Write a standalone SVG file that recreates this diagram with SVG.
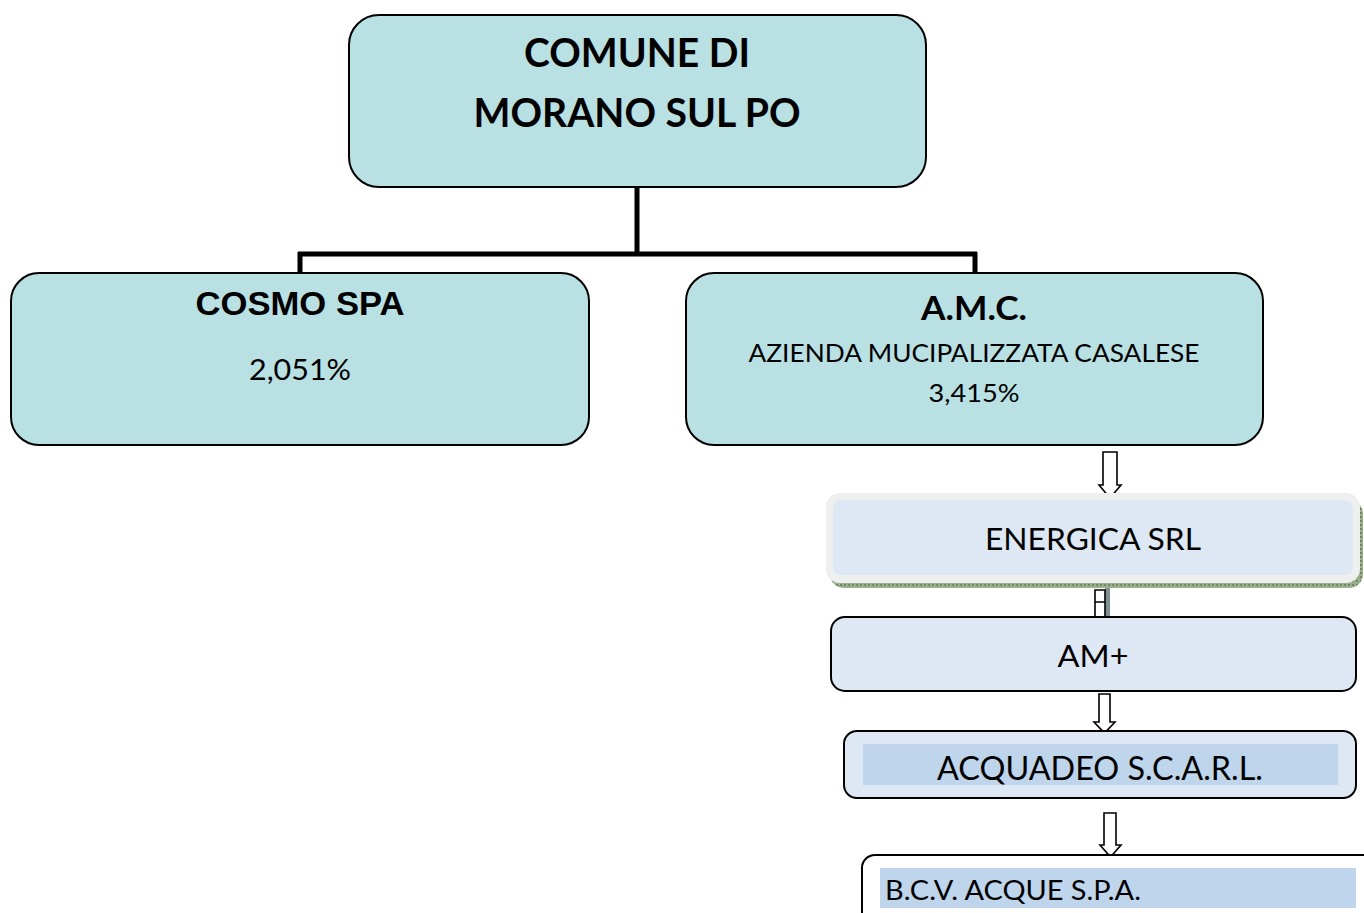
<svg xmlns="http://www.w3.org/2000/svg" width="1364" height="913" viewBox="0 0 1364 913">
<defs>
<style>
.teal{fill:#b9e0e3;stroke:#000;stroke-width:2}
.blue{fill:#dde8f4;stroke:#000;stroke-width:2}
.inner{fill:#bed5ec}
.cal{font-family:Lato,"Open Sans","Liberation Sans",sans-serif;fill:#000}
.ari{font-family:"Liberation Sans",Arial,sans-serif;font-weight:bold;fill:#000}
.conn{fill:none;stroke:#000;stroke-width:5}
.harrow{fill:#fff;stroke:#000;stroke-width:1.6;stroke-linejoin:miter}
</style>
<pattern id="dots" width="4" height="4" patternUnits="userSpaceOnUse">
<rect width="4" height="4" fill="#9db08e"/>
<rect width="2" height="2" fill="#6f8a62"/>
</pattern>
</defs>
<rect width="1364" height="913" fill="#fff"/>

<g id="connectors">
<path class="conn" d="M637,187 V254 M298,254 H977 M300,252 V273 M975,252 V273"/>
<path class="harrow" d="M1103,452 H1117 V485 H1121 L1110,498 L1099,485 H1103 Z"/>
<rect x="1105" y="587" width="5" height="30" fill="#7f8f92"/>
<path class="harrow" d="M1095,590 H1105 V617 H1095 Z M1095,602 H1105"/>
<path class="harrow" d="M1099,694 H1110 V722 H1115 L1104.5,733 L1094,722 H1099 Z"/>
<path class="harrow" d="M1104,813 H1116 V845 H1121 L1110.5,857 L1100,845 H1104 Z"/>
</g>

<g id="comune">
<rect class="teal" x="349" y="15" width="577" height="172" rx="30"/>
<text class="cal" x="637" y="67" text-anchor="middle" font-size="40" font-weight="bold" textLength="226" lengthAdjust="spacingAndGlyphs">COMUNE DI</text>
<text class="cal" x="637" y="127" text-anchor="middle" font-size="40" font-weight="bold" textLength="327" lengthAdjust="spacingAndGlyphs">MORANO SUL PO</text>
</g>

<g id="cosmo">
<rect class="teal" x="11" y="273" width="578" height="172" rx="28"/>
<text class="ari" x="300" y="315" text-anchor="middle" font-size="33" textLength="209" lengthAdjust="spacingAndGlyphs">COSMO SPA</text>
<text class="cal" x="300" y="380" text-anchor="middle" font-size="28" textLength="102" lengthAdjust="spacingAndGlyphs">2,051%</text>
</g>

<g id="amc">
<rect class="teal" x="686" y="273" width="577" height="172" rx="28"/>
<text class="cal" x="974" y="320" text-anchor="middle" font-size="32" font-weight="bold" textLength="106" lengthAdjust="spacingAndGlyphs">A.M.C.</text>
<text class="cal" x="974" y="362" text-anchor="middle" font-size="25" textLength="451" lengthAdjust="spacingAndGlyphs">AZIENDA MUCIPALIZZATA CASALESE</text>
<text class="cal" x="974" y="402" text-anchor="middle" font-size="25" textLength="91" lengthAdjust="spacingAndGlyphs">3,415%</text>
</g>

<g id="energica">
<rect x="830" y="500" width="533" height="88" rx="14" fill="url(#dots)"/>
<rect x="826" y="493" width="534" height="90" rx="14" fill="#eef0f0"/>
<rect x="833" y="500" width="520" height="75" rx="8" fill="#dde8f4"/>
<text class="cal" x="1093" y="550" text-anchor="middle" font-size="30" textLength="216" lengthAdjust="spacingAndGlyphs">ENERGICA SRL</text>
</g>

<g id="amplus">
<rect class="blue" x="831" y="617" width="525" height="74" rx="14"/>
<text class="cal" x="1093" y="667" text-anchor="middle" font-size="30" textLength="71" lengthAdjust="spacingAndGlyphs">AM+</text>
</g>

<g id="acquadeo">
<rect class="blue" x="844" y="731" width="512" height="67" rx="13"/>
<rect class="inner" x="863" y="744" width="475" height="41"/>
<text class="cal" x="1100" y="780" text-anchor="middle" font-size="32" textLength="326" lengthAdjust="spacingAndGlyphs">ACQUADEO S.C.A.R.L.</text>
</g>

<g id="bcv">
<rect x="862" y="855" width="530" height="80" rx="13" fill="#fff" stroke="#000" stroke-width="2"/>
<rect class="inner" x="880" y="868" width="476" height="40"/>
<text class="cal" x="885" y="900" font-size="27" textLength="256" lengthAdjust="spacingAndGlyphs">B.C.V. ACQUE S.P.A.</text>
</g>
</svg>
